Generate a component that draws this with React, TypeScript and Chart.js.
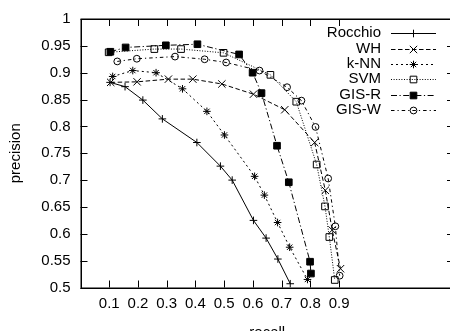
import React, { useEffect, useRef } from 'react';
import { Chart, registerables } from 'chart.js';
import { drawPoint } from 'chart.js/helpers';

Chart.register(...registerables);

const seriesNames = ['Rocchio', 'WH', 'k-NN', 'SVM', 'GIS-R', 'GIS-W'];

const rocchioRecall = [0.103, 0.155, 0.217, 0.285, 0.405, 0.487, 0.528, 0.602, 0.646, 0.687, 0.730];
const rocchioPrecision = [0.882, 0.874, 0.849, 0.814, 0.770, 0.726, 0.700, 0.625, 0.592, 0.553, 0.507];

const whRecall = [0.105, 0.197, 0.306, 0.391, 0.492, 0.602, 0.711, 0.815, 0.852, 0.876, 0.905];
const whPrecision = [0.882, 0.883, 0.888, 0.888, 0.879, 0.860, 0.831, 0.770, 0.681, 0.607, 0.535];

const knnRecall = [0.112, 0.182, 0.263, 0.355, 0.440, 0.501, 0.606, 0.640, 0.686, 0.728, 0.790];
const knnPrecision = [0.893, 0.904, 0.900, 0.870, 0.828, 0.784, 0.707, 0.672, 0.621, 0.575, 0.515];

const svmRecall = [0.098, 0.257, 0.350, 0.498, 0.661, 0.751, 0.822, 0.851, 0.866, 0.885];
const svmPrecision = [0.938, 0.944, 0.944, 0.937, 0.896, 0.846, 0.729, 0.651, 0.594, 0.514];

const gisrRecall = [0.104, 0.157, 0.297, 0.407, 0.552, 0.599, 0.630, 0.684, 0.725, 0.799, 0.802];
const gisrPrecision = [0.939, 0.947, 0.951, 0.953, 0.934, 0.900, 0.862, 0.764, 0.696, 0.548, 0.526];

const giswRecall = [0.128, 0.196, 0.329, 0.432, 0.507, 0.623, 0.719, 0.769, 0.818, 0.862, 0.887, 0.902];
const giswPrecision = [0.921, 0.926, 0.930, 0.925, 0.919, 0.904, 0.873, 0.848, 0.799, 0.703, 0.614, 0.522];

const xTickValues = [0.1, 0.2, 0.3, 0.4, 0.5, 0.6, 0.7, 0.8, 0.9];
const yTickValues = [0.5, 0.55, 0.6, 0.65, 0.7, 0.75, 0.8, 0.85, 0.9, 0.95, 1];

const FONT = "'Liberation Sans', Arial, Helvetica, sans-serif";
const CANVAS_W = 462;
const CANVAS_H = 345;

const pairs = (xs: number[], ys: number[]) => xs.map((x, i) => ({ x, y: ys[i] }));

const styles = [
  { dash: [], pointStyle: 'cross', radius: 3.8, fill: 'rgba(0,0,0,0)' },
  { dash: [4.5, 2.5], pointStyle: 'crossRot', radius: 5.2, fill: 'rgba(0,0,0,0)' },
  { dash: [2, 3], pointStyle: 'star', radius: 3.8, fill: 'rgba(0,0,0,0)' },
  { dash: [1, 1.6], pointStyle: 'rect', radius: 4.7, fill: 'rgba(0,0,0,0)' },
  { dash: [6, 2.5, 1.2, 2.5], pointStyle: 'rect', radius: 4.7, fill: '#000' },
  { dash: [3.5, 3, 1.2, 3], pointStyle: 'circle', radius: 3.4, fill: 'rgba(0,0,0,0)' },
];

const seriesData = [
  pairs(rocchioRecall, rocchioPrecision),
  pairs(whRecall, whPrecision),
  pairs(knnRecall, knnPrecision),
  pairs(svmRecall, svmPrecision),
  pairs(gisrRecall, gisrPrecision),
  pairs(giswRecall, giswPrecision),
];

const framePlugin = {
  id: 'frame',
  afterDraw(chart: any) {
    const { ctx, chartArea } = chart;
    const { left, right, top, bottom } = chartArea;
    const xs = chart.scales.x;
    const ys = chart.scales.y;
    ctx.save();
    ctx.strokeStyle = '#000';
    ctx.lineWidth = 1;
    ctx.setLineDash([]);
    const T = 7;
    ctx.beginPath();
    yTickValues.forEach((v) => {
      const py = Math.round(ys.getPixelForValue(v)) + 0.5;
      ctx.moveTo(left, py);
      ctx.lineTo(left + T, py);
      ctx.moveTo(right, py);
      ctx.lineTo(right - T, py);
    });
    xTickValues.forEach((v) => {
      const px = Math.round(xs.getPixelForValue(v)) + 0.5;
      ctx.moveTo(px, bottom);
      ctx.lineTo(px, bottom - T);
      ctx.moveTo(px, top);
      ctx.lineTo(px, top + T);
    });
    ctx.stroke();
    ctx.lineWidth = 1.5;
    ctx.strokeRect(Math.round(left) + 0.25, Math.round(top) + 0.25, Math.round(right - left), Math.round(bottom - top));

    // key (legend) in the gnuplot style: label right-aligned, then line sample with marker
    const textRight = 381;
    const x0 = 391;
    const x1 = 436;
    const y0 = 33.3;
    const step = 15.35;
    ctx.font = `15px ${FONT}`;
    ctx.fillStyle = '#000';
    ctx.textAlign = 'right';
    ctx.textBaseline = 'middle';
    chart.data.datasets.forEach((ds: any, i: number) => {
      const y = y0 + i * step;
      ctx.fillStyle = '#000';
      ctx.fillText(ds.label, textRight, y);
      ctx.setLineDash(ds.borderDash || []);
      ctx.lineWidth = 1;
      ctx.beginPath();
      ctx.moveTo(x0, Math.round(y) + 0.5);
      ctx.lineTo(x1, Math.round(y) + 0.5);
      ctx.stroke();
      ctx.setLineDash([]);
      ctx.fillStyle = ds.pointBackgroundColor;
      ctx.strokeStyle = '#000';
      drawPoint(ctx, { pointStyle: ds.pointStyle, radius: ds.pointRadius, rotation: 0, borderWidth: 1 }, (x0 + x1) / 2, Math.round(y) + 0.5);
    });
    ctx.restore();
  },
};

export default function App() {
  const ref = useRef<HTMLCanvasElement>(null);
  useEffect(() => {
    if (!ref.current) return;
    const chart = new Chart(ref.current, {
      type: 'line',
      data: {
        datasets: seriesNames.map((name, i) => ({
          label: name,
          data: seriesData[i],
          borderColor: '#000',
          borderWidth: 1,
          borderDash: styles[i].dash,
          pointStyle: styles[i].pointStyle as any,
          pointRadius: styles[i].radius,
          pointBorderWidth: 1,
          pointBorderColor: '#000',
          pointBackgroundColor: styles[i].fill,
          fill: false,
          tension: 0,
        })),
      },
      options: {
        responsive: false,
        animation: false,
        events: [],
        layout: { padding: { left: 0, top: 18.2, right: 8, bottom: 0 } },
        plugins: { legend: { display: false }, tooltip: { enabled: false } },
        scales: {
          x: {
            type: 'linear',
            min: 0,
            max: 1.3,
            grid: { display: false, drawTicks: false },
            border: { display: false },
            afterBuildTicks: (s: any) => {
              s.ticks = xTickValues.map((v) => ({ value: v }));
            },
            afterFit: (s: any) => {
              s.height = CANVAS_H - 287.5;
            },
            ticks: {
              autoSkip: false,
              maxRotation: 0,
              padding: 7,
              color: '#000',
              font: { family: FONT, size: 15 },
              callback: (v: any) => Number(v).toFixed(1),
            },
            title: {
              display: true,
              text: 'recall',
              color: '#000',
              font: { family: FONT, size: 15 },
              padding: { top: 0, bottom: 3.5 },
            },
          },
          y: {
            type: 'linear',
            min: 0.5,
            max: 1,
            grid: { display: false, drawTicks: false },
            border: { display: false },
            afterBuildTicks: (s: any) => {
              s.ticks = yTickValues.map((v) => ({ value: v }));
            },
            afterFit: (s: any) => {
              s.width = 80.5;
            },
            ticks: {
              padding: 10,
              color: '#000',
              font: { family: FONT, size: 15 },
              callback: (v: any) => String(Number(Number(v).toFixed(2))),
            },
            title: {
              display: true,
              text: 'precision',
              color: '#000',
              font: { family: FONT, size: 15 },
              padding: { top: 7, bottom: 0 },
            },
          },
        },
      },
      plugins: [framePlugin],
    });
    return () => chart.destroy();
  }, []);
  return (
    <div style={{ position: 'fixed', left: 0, top: 0, width: 450, height: 331, overflow: 'hidden', background: '#fff' }}>
      <canvas ref={ref} width={CANVAS_W} height={CANVAS_H} style={{ display: 'block', width: CANVAS_W, height: CANVAS_H }} />
    </div>
  );
}
